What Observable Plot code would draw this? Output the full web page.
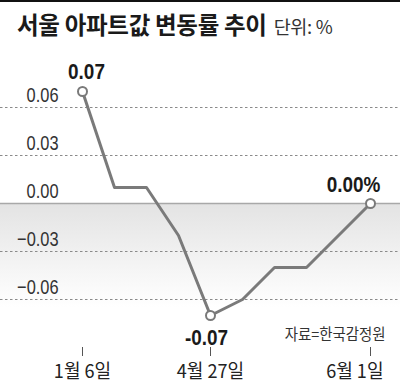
<!DOCTYPE html>
<html><head><meta charset="utf-8">
<script src="https://cdn.jsdelivr.net/npm/d3@7"></script>
<script src="https://cdn.jsdelivr.net/npm/@observablehq/plot@0.6"></script>
<style>
body{margin:0;background:#fff;}
#wrap{width:400px;height:386px;position:relative;overflow:hidden;background:#fff;}
#head{height:56px;position:relative;border-top:2px solid #111;box-sizing:border-box;}
#title{position:absolute;left:17px;top:8px;font-family:"Noto Sans CJK KR","Noto Sans",sans-serif;font-weight:700;font-size:23.5px;line-height:28px;color:#1a1a1a;letter-spacing:-0.3px;white-space:nowrap;}
#title span{font-weight:400;font-size:18.5px;color:#333;margin-left:7px;letter-spacing:-0.3px;}
svg{display:block;}
</style></head>
<body><div id="wrap"><div id="head"><div id="title">서울 아파트값 변동률 추이<span>단위: %</span></div></div><div id="chart"></div></div>
<script>
const dates = ["1월 6일","2월 3일","3월 2일","3월 30일","4월 27일","5월 4일","5월 11일","5월 18일","5월 25일","6월 1일"];
const values = [0.07, 0.01, 0.01, -0.02, -0.07, -0.06, -0.04, -0.04, -0.02, 0.00];
const tickDates = ["1월 6일","4월 27일","6월 1일"];
const yTicks = [0.06, 0.03, 0.00, -0.03, -0.06];
const yTickLabels = ["0.06","0.03","0.00","\u22120.03","\u22120.06"];
const markedIdx = [0, 4, 9];
const pointLabels = ["0.07","-0.07","0.00%"];
const source = "자료=한국감정원";

const data = dates.map((d, i) => ({date: d, value: values[i]}));
const marked = markedIdx.map(i => data[i]);
const num = '"Liberation Sans","Noto Sans CJK KR",sans-serif';
const kr = '"Noto Sans CJK KR",sans-serif';

const defs = () => {
  const g = d3.create("svg:defs");
  const lg = g.append("linearGradient").attr("id","shade").attr("x1",0).attr("y1",0).attr("x2",0).attr("y2",1);
  lg.append("stop").attr("offset","0%").attr("stop-color","#e3e3e3");
  lg.append("stop").attr("offset","100%").attr("stop-color","#ffffff");
  return g.node();
};

const xAxisOpts = {tickSize: 9, tickPadding: 8, fontSize: 19, stroke: "#555", fill: "#222", label: null, fontFamily: kr};

const chart = Plot.plot({
  width: 400,
  height: 330,
  marginTop: 3,
  marginBottom: 39,
  marginLeft: 0,
  marginRight: 0,
  style: {fontFamily: num, background: "#fff", overflow: "visible"},
  x: {type: "point", domain: dates, range: [82, 370], padding: 0, label: null},
  y: {domain: [-0.09, 0.09], label: null},
  marks: [
    defs,
    Plot.rectY([{y1: 0, y2: -0.065}], {y1: "y1", y2: "y2", fill: "url(#shade)"}),
    Plot.ruleY(yTicks.filter(d => d !== 0), {stroke: "#8a8a8a", strokeWidth: 1, strokeDasharray: "2.5,2.5"}),
    Plot.ruleY([0], {stroke: "#a8a8a8", strokeWidth: 1.5}),
    Plot.axisY({anchor: "left", ticks: yTicks, tickSize: 0, tickPadding: 0, dx: 58, dy: -12, label: null,
      tickFormat: (d) => yTickLabels[yTicks.indexOf(d)], fontSize: 21, fill: "#333", textAnchor: "end"}),
    Plot.axisX({...xAxisOpts, ticks: tickDates}),
    Plot.line(data, {x: "date", y: "value", stroke: "#7a7a7a", strokeWidth: 3}),
    Plot.dot(marked, {x: "date", y: "value", r: 4.5, fill: "#fff", stroke: "#7a7a7a", strokeWidth: 2}),
    Plot.text([marked[0]], {x: "date", y: "value", text: () => pointLabels[0], dx: 4, dy: -20, fontSize: 22, fontWeight: "bold", fill: "#1a1a1a"}),
    Plot.text([marked[1]], {x: "date", y: "value", text: () => pointLabels[1], dx: -4, dy: 22, fontSize: 22, fontWeight: "bold", fill: "#1a1a1a"}),
    Plot.text([marked[2]], {x: "date", y: "value", text: () => pointLabels[2], dx: -17, dy: -19, fontSize: 22, fontWeight: "bold", fill: "#1a1a1a"}),
    Plot.text([source], {text: d => d, frameAnchor: "bottom-right", dx: -15, dy: -8, fontSize: 16, fill: "#333", fontFamily: kr})
  ]
});
document.getElementById("chart").appendChild(chart);

// condense labels to mimic the narrow typeface of the original
function squeeze(el, f) {
  const w = el.getComputedTextLength();
  el.setAttribute("textLength", w * f);
  el.setAttribute("lengthAdjust", "spacingAndGlyphs");
}
d3.select(chart).selectAll('g[aria-label="y-axis tick label"] text').each(function() { squeeze(this, 0.78); });
d3.select(chart).selectAll('g[aria-label="x-axis tick label"] text').each(function() {
  squeeze(this, 0.95);
  // the last date label sits left of its tick in the original
  if (this.textContent === tickDates[tickDates.length - 1]) {
    this.setAttribute("text-anchor", "end");
    this.setAttribute("x", 13);
  }
});
d3.select(chart).selectAll('g[aria-label="text"] text').each(function() {
  squeeze(this, this.textContent === source ? 0.9 : 0.86);
});
</script></body></html>
